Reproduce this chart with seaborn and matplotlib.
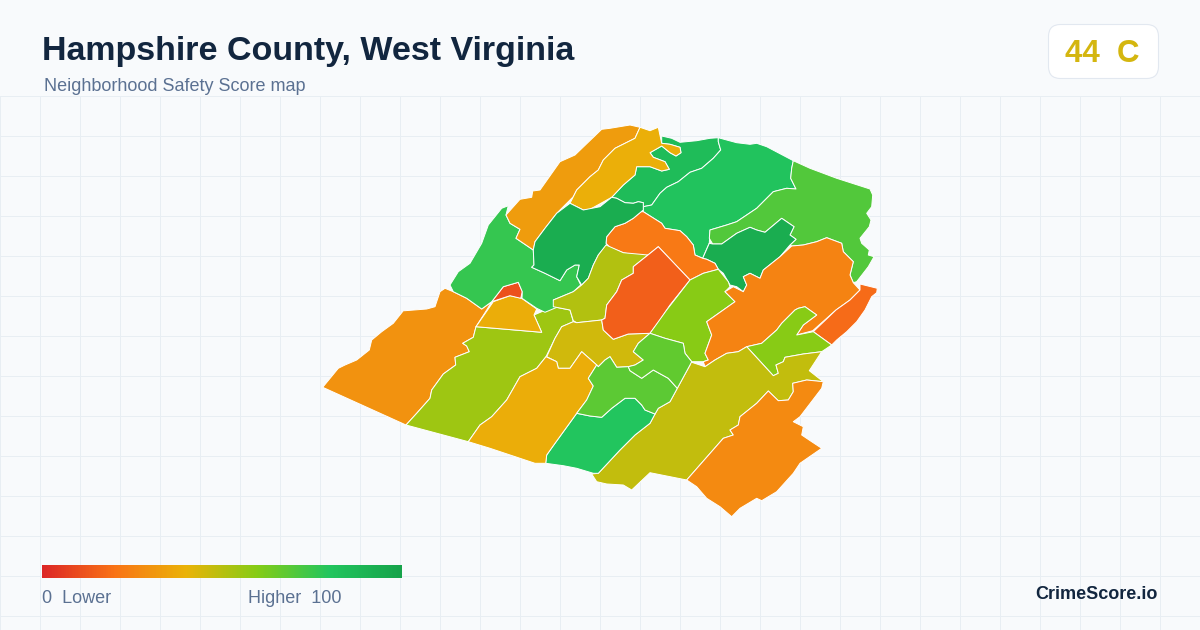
import matplotlib
matplotlib.use("Agg")
import matplotlib.pyplot as plt
import numpy as np
import seaborn as sns
from matplotlib.patches import FancyBboxPatch

sns.set_theme(style="white")
plt.rcParams['font.family'] = ['Liberation Sans', 'DejaVu Sans']

TITLE = "Hampshire County, West Virginia"
SUBTITLE = "Neighborhood Safety Score map"
BADGE = "44  C"
BRAND = "CrimeScore.io"
LEGEND_LOW = "0  Lower"
LEGEND_HIGH = "Higher  100"
PALETTE_STOPS = ["#dc2626", "#f97316", "#eab308", "#84cc16", "#22c55e", "#16a34a"]

# Neighbourhood outlines, with their scores
west = [(322.7,387.3),(406,425),(416.7,413.3),(430,398.3),(431.7,390),(443.3,374),(455.7,365),(455,357.3),(469.3,351.7),(466.7,346),(462.7,343.3),(473.3,337.3),(476,326.7),(486.7,310),(491.7,301.7),(481.7,309),(466.7,298.3),(453.3,291.7),(445,288.3),(440,291.7),(435,306.7),(426.7,309),(405,310.7),(403.3,310.7),(393.3,323.3),(381.7,331.7),(371.7,340),(369.3,350),(356.7,360),(345,365),(338.3,368.3)]
southwest = [(406,425),(468.3,441.7),(480,425),(491.7,416.7),(506.7,400),(520,376.7),(536.7,368.3),(546,356.7),(555,338.3),(561.7,326.7),(573.3,321.7),(570,310),(553.3,306.7),(534,315),(541.7,332.3),(476,326.7),(473.3,337.3),(462.7,343.3),(466.7,346),(469.3,351.7),(455,357.3),(455.7,365),(443.3,374),(431.7,390),(430,398.3),(416.7,413.3)]
triangle = [(476,326.7),(493.3,301.7),(510,295.7),(521.7,298.3),(536.7,309),(534,315),(541.7,332.3)]
sliver = [(491.7,301.7),(503.3,286.7),(518.3,282.3),(522.3,291.7),(520.7,298.3),(510,295.7)]
northwest = [(450,285),(458.3,271.7),(470,263.3),(481.7,243.3),(488.3,225),(501.7,208.3),(508.3,205.7),(506,215),(510,223.3),(520,229.3),(516,238.3),(533.3,250),(534,265),(531.7,267.3),(545,273.3),(560,280.7),(566.7,270),(575,265),(579.3,265),(576.7,276.7),(580.7,285),(573.3,291.7),(553.3,300),(558.3,306.7),(545,312.3),(536.7,308.3),(522,298.3),(522.3,291.7),(518.3,282.3),(503.3,286.7),(491.7,301.7),(481.7,309),(466.7,298.3),(453.3,291.7)]
ridge = [(506,215),(520,199.3),(531.7,197.3),(532.7,191),(540,190),(560,161.7),(575,155),(601.7,129.3),(610,128.3),(630,125),(640,127.3),(635,138.3),(615,148.3),(603.3,160),(598.3,170),(590,176.7),(576.7,190),(573.3,196.7),(556.7,213.3),(545,228.3),(535,241.7),(533.3,250),(516,238.3),(520,229.3),(510,223.3)]
topleft = [(661.7,136),(671.7,138.3),(680,142.3),(696.7,140.7),(710,138.3),(718.3,137.7),(718.3,141.7),(720.7,150),(713.3,158.3),(701.7,168.3),(690,172.3),(678.3,181.7),(666.7,187.3),(660,193.3),(651.7,205),(643.3,206.7),(643.3,202.7),(638.3,201.7),(633.3,203.3),(625,202.7),(616.7,198.3),(611.7,197.3),(623.3,185),(635,175),(636.7,166.7),(650,166.7),(661.7,171),(669.3,169.3),(665,161.7),(653.3,157.3),(650,152.7),(661.7,146),(670,152.7),(676,156),(681,152.7),(680,147.3),(670,144.3),(661.7,143.3)]
lobes = [(640,127.3),(650,130.7),(658.3,127.3),(661.7,143.3),(670,144.3),(680,147.3),(681,152.7),(676,156),(670,152.7),(661.7,146),(650,152.7),(653.3,157.3),(665,161.7),(669.3,169.3),(661.7,171),(650,166.7),(636.7,166.7),(635,175),(623.3,185),(611.7,197.3),(590,209.3),(583.3,210),(570,203.3),(576.7,190),(590,176.7),(598.3,170),(603.3,160),(615,148.3),(635,138.3)]
north = [(718.3,137.7),(726.7,140),(736.7,142.7),(750,144.3),(756.7,143.3),(766.7,146.7),(793.3,160.7),(791.7,168.3),(790.7,178.3),(796,189),(786.7,188.3),(773.3,191.7),(756.7,208.3),(736.7,221.7),(726.7,225),(710,230),(709.3,243),(702.7,258.3),(695,255),(693.3,245),(686.7,236.7),(680,230.7),(665,228.3),(661.7,223.3),(643.3,211.7),(643.3,206.7),(651.7,205),(660,193.3),(666.7,187.3),(678.3,181.7),(690,172.3),(701.7,168.3),(713.3,158.3),(720.7,150),(718.3,141.7)]
northeast = [(793.3,160.7),(810,168.3),(836.7,178.3),(870,189),(872.7,195),(871.7,206.7),(866.7,213.3),(871,220),(869.3,226.7),(860,238.3),(861.7,243.3),(869.3,250),(868.3,255),(874,256.7),(868.3,266.7),(856.7,281.7),(853.3,282.7),(850,275),(853.3,261.7),(843.3,251.7),(841.7,243.3),(826.7,237.7),(816.7,241.7),(803.3,245),(791.7,246),(790,245),(796,239.3),(790,235),(794,226.7),(781.7,218.3),(765,232.3),(756.7,230),(750,227.3),(736.7,233.3),(721.7,244),(712.7,244),(709.3,238.3),(710,230),(726.7,225),(736.7,221.7),(756.7,208.3),(773.3,191.7),(786.7,188.3),(796,189),(790.7,178.3),(791.7,168.3)]
east_forest = [(702.7,258.3),(709.3,243.3),(712.7,244),(721.7,244),(736.7,233.3),(750,227.3),(756.7,230),(765,232.3),(781.7,218.3),(794,226.7),(790,235),(796,239.3),(790,245),(780,256.7),(763.3,270),(760,278.3),(750,273.3),(743.3,276.7),(746.7,285),(743.3,291.7),(736.7,286.7),(730,285),(723.3,273.3),(718.3,269.3),(715,263.3),(706.7,259.3)]
cap = [(643.3,211.7),(661.7,223.3),(665,228.3),(680,230.7),(686.7,236.7),(693.3,245),(695,255),(702.7,258.3),(706.7,259.3),(715,263.3),(718.3,269.3),(703.3,273.3),(690,280),(658.3,246.7),(648,255),(643.3,256.7),(623.3,252.7),(610,247.3),(606,243.3),(606.7,236.7),(615,226.7),(625,223.3),(633.3,218.3),(641,211.7)]
west_forest = [(533.3,250),(535,241.7),(545,228.3),(556.7,213.3),(570,203.3),(583.3,210),(600,206.7),(611.7,197.3),(616.7,198.3),(625,202.7),(633.3,203.3),(638.3,201.7),(643.3,202.7),(643.3,210),(633.3,218.3),(625,223.3),(615,226.7),(606.7,236.7),(606,243.3),(606.7,245),(598.3,255),(593.3,265),(588.3,278.3),(581.7,285),(576.7,276.7),(579.3,265),(575,265),(566.7,270),(560,280.7),(545,273.3),(531.7,267.3),(534,265)]
olive_mid = [(606,245),(623.3,252.7),(648,255),(633.3,266.7),(633.3,273.3),(621.7,280),(616.7,291.7),(606.7,305),(605,318.3),(601.7,320),(576.7,322.7),(573.3,320.7),(570,310),(553.3,306.7),(553.3,300),(573.3,291.7),(581.7,285),(588.3,278.3),(593.3,265),(598.3,255)]
center = [(573.3,321.7),(576.7,322.7),(601.7,320),(603.3,330),(613.3,339.3),(628.3,334),(650,333.3),(638.3,343.3),(633.3,351.7),(643.3,360),(635,365),(628.3,366.7),(616.7,367.3),(610,356.7),(605,360),(598.3,366.7),(596.7,365),(581.7,351.7),(570,368.3),(558.3,368.3),(556.7,361.7),(546.7,356.7),(555,338.3),(561.7,326.7)]
hotspot = [(658.3,246.7),(690,280),(670,305),(660,320),(650,333.3),(628.3,334),(613.3,339.3),(603.3,330),(601.7,320),(605,318.3),(606.7,305),(616.7,291.7),(621.7,280),(633.3,273.3),(633.3,266.7),(648,255)]
lime_mid = [(690,280),(703.3,273.3),(718.3,269.3),(728.3,281.7),(730,286.7),(725,291.7),(735,301.7),(723.3,310),(706.7,321.7),(711.7,335),(705,353.3),(708.3,360),(703.3,361.7),(691.7,361.7),(685,353.3),(683.3,343.3),(665,338.3),(650,333.3),(666.7,310)]
orange_ne = [(826.7,237.7),(841.7,243.3),(843.3,251.7),(853.3,261.7),(850,275),(853.3,282.7),(860,290),(850,300),(836,310),(812.7,330.7),(796.7,335),(803.3,325),(816.7,315),(805,306.7),(798.3,308.3),(795,310),(781.7,323.3),(776.7,330),(761.7,343.3),(746.7,346.7),(738.3,351.7),(726.7,353.3),(715,360),(705,366.7),(703.3,361.7),(708.3,360),(705,353.3),(711.7,335),(706.7,321.7),(723.3,310),(735,301.7),(725,291.7),(733.3,286.7),(743.3,291.7),(746.7,285),(743.3,276.7),(750,273.3),(760,278.3),(763.3,270),(780,256.7),(791.7,246),(803.3,245),(816.7,241.7)]
strip = [(860,284),(877.3,288.3),(876.7,292.7),(871.7,296.7),(865,310),(856.7,321.7),(846.7,331.7),(836.7,340),(831.7,345),(813.3,331.7),(836,310),(850,300),(860,290)]
lime_ne = [(746.7,346.7),(761.7,343.3),(776.7,330),(781.7,323.3),(795,310),(798.3,308.3),(805,306.7),(816.7,315),(803.3,325),(796.7,335),(813.3,331.7),(831.7,345),(821.7,351.7),(803.3,354),(785,357.3),(783.3,361.7),(776,365),(778.3,373.3),(773.3,375.7)]
olive_big = [(690,361.7),(705,366.7),(715,360),(726.7,353.3),(738.3,351.7),(746.7,346.7),(773.3,375.7),(778.3,373.3),(776,365),(783.3,361.7),(785,357.3),(803.3,354),(821.7,351.7),(809.3,370.7),(823.3,381.7),(806.7,380),(792.7,383.3),(793.3,391.7),(788.3,400),(778.3,400.7),(768.3,391),(756.7,403.3),(740,416.7),(738.3,425),(730,430),(733.3,435),(723.3,438.3),(686.7,480),(650,472.7),(631.7,490),(623.3,485),(606.7,484),(596.7,481.7),(591.7,474),(598.3,473.3),(620,450),(635,435),(650,423.3),(655,414),(658.3,408.3),(670,401.7),(677.3,388.3),(690,365)]
orange_se = [(686.7,480),(696.7,486.7),(706.7,498.3),(720,506.7),(731.7,516.7),(740,508.3),(756.7,498.3),(761.7,500.7),(776.7,491.7),(793.3,473.3),(800,463.3),(821.7,448.3),(811.7,441.7),(801.7,435),(803.3,426.7),(793.3,421.7),(800,416.7),(821.7,388.3),(823.3,381.7),(806.7,380),(792.7,383.3),(793.3,391.7),(788.3,400),(778.3,400.7),(768.3,391),(756.7,403.3),(740,416.7),(738.3,425),(730,430),(733.3,435),(723.3,438.3)]
green_south = [(576.7,413.3),(590,416),(601.7,417.3),(611.7,408.3),(625,398.3),(635,398.3),(641.7,405),(645,410),(655,414),(650,423.3),(635,435),(620,450),(598.3,473.3),(593.3,473.3),(576.7,468.3),(563.3,465.7),(545.7,463.3),(546.7,455),(555,443.3)]
yellow_south = [(468.3,441.7),(480,425),(491.7,416.7),(506.7,400),(520,376.7),(536.7,368.3),(546,356.7),(556.7,361.7),(558.3,368.3),(570,368.3),(581.7,351.7),(596.7,365),(588.3,378.3),(593.3,386),(586.7,400),(576.7,413.3),(555,443.3),(546.7,455),(545.7,463.3),(535,463.3),(520,458.3),(490,448.3)]
lime_low = [(596.7,365),(598.3,366.7),(605,360),(610,356.7),(616.7,367.3),(628.3,366.7),(630,370.7),(641.7,378.3),(653.3,370),(668.3,378.3),(677.3,388.3),(670,401.7),(658.3,408.3),(655,414),(645,410),(641.7,405),(635,398.3),(625,398.3),(611.7,408.3),(601.7,417.3),(590,416),(576.7,413.3),(586.7,400),(593.3,386),(588.3,378.3)]
lime_up = [(650,333.3),(665,338.3),(683.3,343.3),(685,353.3),(691.7,361.7),(690,365),(677.3,388.3),(668.3,378.3),(653.3,370),(641.7,378.3),(630,370.7),(628.3,366.7),(635,365),(643.3,360),(633.3,351.7),(638.3,343.3)]

regions = [west, southwest, triangle, sliver, northwest, ridge, topleft, lobes, north, northeast,
           east_forest, cap, west_forest, olive_mid, center, hotspot, lime_mid, orange_ne, strip,
           lime_ne, olive_big, orange_se, green_south, yellow_south, lime_low, lime_up]
scores = [30, 55, 38, 11, 76, 33, 85, 39, 81, 70,
          94, 22, 94, 51, 45, 15, 59, 25, 18,
          59, 48, 27, 80, 38, 68, 67]

BG = "#f8fafc"
GRID = "#e8eef3"
fig = plt.figure(figsize=(12, 6.3), dpi=100, facecolor=BG)
ax = fig.add_axes([0, 0, 1, 1])
ax.set_xlim(0, 1200)
ax.set_ylim(630, 0)
ax.set_axis_off()

vl = ax.vlines(np.arange(0.5, 1200, 40), 96.5, 630, color=GRID, lw=0.72, zorder=1)
hl = ax.hlines(np.arange(96.5, 630, 40), 0, 1200, color=GRID, lw=0.72, zorder=1)
vl.set_snap(False)
hl.set_snap(False)

cmap = sns.blend_palette(PALETTE_STOPS, as_cmap=True)
for poly, score in zip(regions, scores):
    xs, ys = zip(*poly)
    ax.fill(xs, ys, facecolor=cmap(score / 100), edgecolor="#ffffff", lw=0.7,
            joinstyle="round", zorder=2)

# Legend gradient
leg = fig.add_axes([42 / 1200, 1 - 578 / 630, 360 / 1200, 13 / 630])
sns.heatmap(np.linspace(0, 100, 360)[None, :], ax=leg, cmap=cmap, vmin=0, vmax=100,
            cbar=False, xticklabels=False, yticklabels=False)

TITLE_C = "#12263f"
MUTED = "#5b7192"
ax.text(42.5, 60, TITLE, fontsize=24.48, fontweight="bold", color=TITLE_C, va="baseline")
ax.text(44, 91, SUBTITLE, fontsize=12.96, color=MUTED, va="baseline")

ax.add_patch(FancyBboxPatch((1048.5 + 12, 24.5 + 12), 110 - 24, 54 - 24,
                            boxstyle="round,pad=12,rounding_size=12",
                            facecolor="#ffffff", edgecolor="#e2e8f0", lw=0.8, zorder=3))
ax.text(1102.5, 62, BADGE, fontsize=22.5, fontweight="bold", color="#d4b60f",
        ha="center", va="baseline", zorder=4)

ax.text(42, 603, LEGEND_LOW, fontsize=12.96, color=MUTED, va="baseline")
ax.text(341.5, 603, LEGEND_HIGH, fontsize=12.96, color=MUTED, ha="right", va="baseline")
ax.text(1158, 599, BRAND, fontsize=13, fontweight="bold", color=TITLE_C, ha="right", va="baseline")

fig.savefig("out.png", dpi=100, facecolor=BG)
